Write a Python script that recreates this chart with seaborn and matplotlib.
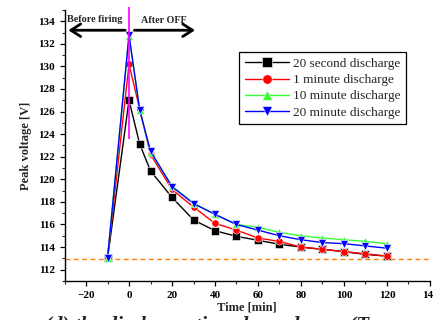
import matplotlib
matplotlib.use("Agg")
import matplotlib.pyplot as plt
import seaborn as sns
import pandas as pd
from matplotlib.ticker import MultipleLocator

time_min = [-10, 0, 5, 10, 20, 30, 40, 50, 60, 70, 80, 90, 100, 110, 120]
series_names = ["20 second discharge", "1 minute discharge",
                "10 minute discharge", "20 minute discharge"]
v_20s = [113.0, 127.0, 123.1, 120.75, 118.4, 116.4, 115.45, 114.95, 114.6, 114.25, 114.0, 113.8, 113.6, 113.35, 113.2]
v_1m = [113.0, 130.2, 126.2, 122.2, 119.1, 117.55, 116.1, 115.5, 114.8, 114.5, 114.0, 113.8, 113.6, 113.4, 113.2]
v_10m = [113.0, 132.7, 126.1, 122.4, 119.4, 117.9, 116.9, 116.0, 115.75, 115.3, 115.0, 114.8, 114.65, 114.5, 114.3]
v_20m = [113.0, 132.8, 126.1, 122.5, 119.35, 117.85, 116.9, 116.0, 115.5, 115.0, 114.65, 114.4, 114.3, 114.1, 113.9]
baseline_v = 112.95
colors = ["#000000", "#ff0000", "#33ff33", "#0000ff"]
markers = ["s", "o", "^", "v"]

rows = []
for name, vals in zip(series_names, [v_20s, v_1m, v_10m, v_20m]):
    for t, v in zip(time_min, vals):
        rows.append({"Time": t, "Voltage": v, "Series": name})
df = pd.DataFrame(rows)

sns.set_style("ticks")
plt.rcParams["font.family"] = ["Liberation Serif", "DejaVu Serif"]

fig = plt.figure(figsize=(4.33, 3.2), dpi=100)
ax = fig.add_axes([0.149, 0.122, 0.844, 0.847])

sns.lineplot(data=df, x="Time", y="Voltage", hue="Series", style="Series",
             hue_order=series_names, style_order=series_names,
             palette=dict(zip(series_names, colors)),
             markers=dict(zip(series_names, markers)), dashes=False,
             markersize=5.2, markeredgewidth=0.4, linewidth=1.0, ax=ax)

ax.axhline(baseline_v, color="#ff8000", linestyle=(0, (3.5, 2.5)), linewidth=1.0, zorder=1)
ax.vlines(0, 123.6, 135.3, colors="#ff00ff", linewidth=1.2, zorder=10, clip_on=False)

arrow_kw = dict(arrowstyle="->,head_length=0.7,head_width=0.45", lw=2.0, color="black")
ax.annotate("", xy=(-29.5, 133.2), xytext=(-0.5, 133.2), arrowprops=arrow_kw)
ax.annotate("", xy=(32, 133.2), xytext=(1.2, 133.2), arrowprops=arrow_kw)
ax.text(-15.8, 134.15, "Before firing", ha="center", va="center", fontsize=7.3, fontweight="bold")
ax.text(16, 134.1, "After OFF", ha="center", va="center", fontsize=7.3, fontweight="bold")

ax.set_xlim(-30, 140)
ax.set_ylim(111, 135)
ax.xaxis.set_major_locator(MultipleLocator(20))
ax.xaxis.set_minor_locator(MultipleLocator(10))
ax.yaxis.set_major_locator(MultipleLocator(2))
ax.yaxis.set_minor_locator(MultipleLocator(1))
ax.tick_params(axis="both", which="major", length=3.5, width=0.9, labelsize=8, direction="out", colors="black")
ax.tick_params(axis="both", which="minor", length=2, width=0.8, direction="out")
for lab in ax.get_xticklabels() + ax.get_yticklabels():
    lab.set_fontweight("bold")
for s in ["left", "bottom"]:
    ax.spines[s].set_linewidth(1.0)
    ax.spines[s].set_color("black")
ax.spines["top"].set_visible(False)
ax.spines["right"].set_visible(False)

ax.set_xlabel("Time [min]", fontsize=9, fontweight="bold", labelpad=1)
ax.set_ylabel("Peak voltage [V]", fontsize=9, fontweight="bold", labelpad=4)

leg = ax.legend(loc="upper left", bbox_to_anchor=(0.46, 0.87), fontsize=9.5,
                frameon=True, fancybox=False, edgecolor="black", framealpha=1,
                handlelength=3.3, handletextpad=0.3, borderpad=0.45, labelspacing=0.3,
                markerscale=1.3)
leg.get_frame().set_linewidth(0.9)

fig.text(0.105, 0.011, "(d) the discharge time dependence  (Temperature of ...",
         fontsize=15, fontstyle="italic", fontweight="bold", ha="left", va="top")

fig.savefig("out.png", dpi=100)
